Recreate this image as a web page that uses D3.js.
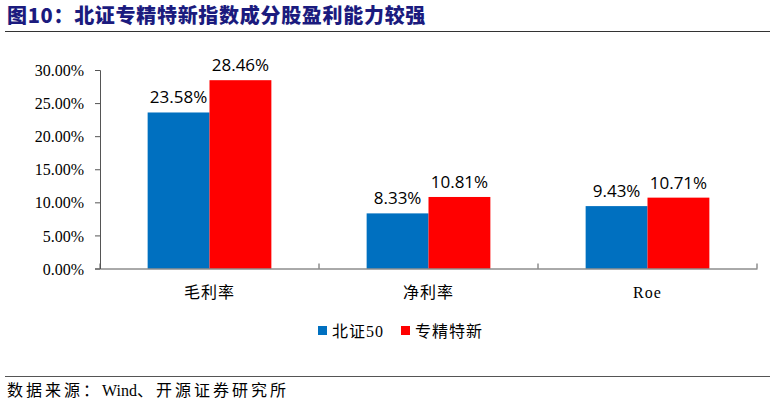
<!DOCTYPE html>
<html lang="zh">
<head>
<meta charset="UTF-8">
<title>北证专精特新指数成分股盈利能力较强</title>
<script src="https://d3js.org/d3.v7.min.js"></script>
<style>
    body { margin: 0; background: #fff; }
    svg { display: block; }
    svg text.serif { font-family: "Liberation Serif", "Noto Sans CJK SC"; }
</style>
</head>
<body>
<svg id="chart"></svg>
<script>
    // Chart data
    const categories = ["毛利率", "净利率", "Roe"];
    const seriesNames = ["北证50", "专精特新"];
    const bz50 = [23.58, 8.33, 9.43];
    const zjtx = [28.46, 10.81, 10.71];
    const yTicks = [0, 5, 10, 15, 20, 25, 30];
    const colors = ["#0070c0", "#ff0000"];

    const width = 774, height = 405;
    const svg = d3.select("#chart").attr("width", width).attr("height", height);

    // Title and rules
    svg.append("text").attr("x", 7).attr("y", 23)
        .style("font-family", '"Noto Sans CJK SC", sans-serif')
        .style("font-weight", "900").style("font-size", "20px")
        .style("letter-spacing", "0.7px").style("fill", "#1b1b7e")
        .text("图10：北证专精特新指数成分股盈利能力较强");
    svg.append("line").attr("x1", 5).attr("x2", 770).attr("y1", 31.5).attr("y2", 31.5)
        .attr("stroke", "#333").attr("stroke-width", 1.2);
    svg.append("line").attr("x1", 5).attr("x2", 770).attr("y1", 376.5).attr("y2", 376.5)
        .attr("stroke", "#555").attr("stroke-width", 1.2);
    const src = svg.append("text").attr("class", "serif").attr("x", 7).attr("y", 396)
        .style("font-size", "16px");
    src.append("tspan").style("letter-spacing", "3px").text("数据来源：");
    src.append("tspan").text("Wind");
    src.append("tspan").style("letter-spacing", "3px").text("、开源证券研究所");

    // Scales
    const plot = { left: 100, right: 757, top: 70, bottom: 268.5 };
    const x0 = d3.scaleBand().domain(categories).range([plot.left, plot.right]);
    const x1 = d3.scaleBand().domain(seriesNames).range([0, x0.bandwidth()]).paddingOuter(0.77).paddingInner(0);
    const y = d3.scaleLinear().domain([0, 30]).range([plot.bottom, plot.top]);

    const rows = categories.map((c, i) => ({ cat: c, values: [
        { name: seriesNames[0], v: bz50[i] },
        { name: seriesNames[1], v: zjtx[i] }
    ] }));

    // Bars
    const groups = svg.selectAll(".grp").data(rows).enter().append("g")
        .attr("transform", d => `translate(${x0(d.cat)},0)`);
    groups.selectAll("rect").data(d => d.values).enter().append("rect")
        .attr("x", d => x1(d.name))
        .attr("y", d => y(d.v))
        .attr("width", x1.bandwidth())
        .attr("height", d => y(0) - y(d.v))
        .attr("fill", (d, i) => colors[i]);
    groups.selectAll(".bar-label").data(d => d.values).enter().append("text")
        .attr("x", d => x1(d.name) + x1.bandwidth() / 2)
        .attr("y", d => y(d.v) - 9)
        .attr("text-anchor", "middle")
        .style("font-family", '"Open Sans", "Liberation Sans", sans-serif')
        .style("font-size", "17px")
        .text(d => d.v.toFixed(2) + "%");

    // Y axis
    const yAxis = svg.append("g").attr("transform", `translate(${plot.left},0)`)
        .call(d3.axisLeft(y).tickValues(yTicks).tickSize(5).tickFormat(d => d.toFixed(2) + "%"));
    yAxis.attr("font-family", null);
    yAxis.select(".domain").attr("stroke", "#555");
    yAxis.selectAll(".tick line").attr("stroke", "#555");
    yAxis.selectAll("text").attr("class", "serif").attr("x", -16).attr("dy", "0.35em")
        .style("font-size", "16px").style("fill", "#000");

    // X axis
    const xAxis = svg.append("g").attr("transform", `translate(0,${plot.bottom})`)
        .call(d3.axisBottom(x0).tickSize(0).tickSizeOuter(0));
    xAxis.attr("font-family", null);
    xAxis.select(".domain").attr("stroke", "#555");
    xAxis.selectAll("text").attr("class", "serif").attr("dy", 0).attr("y", 29)
        .style("font-size", "16px").style("letter-spacing", "1px").style("fill", "#000");
    const bounds = [plot.left].concat(categories.map(c => x0(c) + x0.bandwidth()));
    xAxis.selectAll(".xb").data(bounds).enter().append("line")
        .attr("x1", d => d).attr("x2", d => d).attr("y1", 0).attr("y2", -5)
        .attr("stroke", "#555");

    // Legend
    const legend = svg.append("g").attr("transform", "translate(318,331)");
    const legendX = [0, 83];
    seriesNames.forEach((n, i) => {
        legend.append("rect").attr("x", legendX[i]).attr("y", -5).attr("width", 9).attr("height", 9).attr("fill", colors[i]);
        legend.append("text").attr("class", "serif").attr("x", legendX[i] + 14).attr("y", 6)
            .style("font-size", "16px").style("letter-spacing", "1px")
            .text(n);
    });
</script>
</body>
</html>
